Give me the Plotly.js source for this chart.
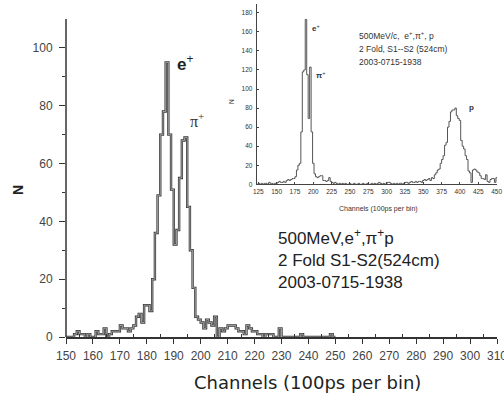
<!DOCTYPE html>
<html><head><meta charset="utf-8">
<script src="https://cdn.plot.ly/plotly-3.0.1.min.js"></script>
<style>html,body{margin:0;padding:0;background:#fff}#chart{width:504px;height:394px}</style>
</head><body><div id="chart"></div>
<script>
// ---- main histogram: 1-channel bins starting at channel 150 ----
const mainStart = 150;
const mainBinWidth = 1;
const mainCounts = [
  0,0,0,1,2,1,1,0,1,0,        // 150-159
  0,2,1,1,3,0,1,2,2,2,        // 160-169
  4,3,3,2,3,4,7,8,5,11,       // 170-179
  11,9,20,36,49,70,78,95,70,51, // 180-189
  32,37,55,68,69,45,30,17,7,6,  // 190-199
  5,3,6,5,4,7,0,3,2,3,        // 200-209
  4,4,4,3,2,2,1,4,3,2,        // 210-219
  2,1,1,0,1,1,1,0,0,3,        // 220-229
  0,0,0,0,0,0,0,1,0,0,        // 230-239
  0,0,0,0,0,0,0,0,1,0         // 240-249
];
const mainXTicks = [150,160,170,180,190,200,210,220,230,240,250,260,270,280,290,300,310];
const mainYTicks = [0,20,40,60,80,100];
const mainYMinor = [10,30,50,70,90];

// ---- inset histogram: 2-channel bins starting at channel 123 ----
const insetStart = 123;
const insetBinWidth = 2;
const insetCounts = [
  0,1,0,1,0,1,1,0,2,1,
  1,0,1,1,2,3,2,2,3,2,
  4,5,4,5,6,6,8,15,20,22,
  55,118,120,173,115,69,123,55,22,11,
  8,7,8,9,9,4,4,3,4,7,
  3,2,1,2,1,0,1,0,1,0,
  1,0,0,1,0,0,1,0,0,1,
  0,0,1,0,0,1,0,0,1,0,
  1,0,1,2,1,0,1,0,1,2,
  2,1,0,1,0,1,0,1,1,0,
  1,2,2,1,2,3,2,2,3,2,
  3,3,2,4,5,4,5,6,4,7,
  6,10,12,15,16,22,26,30,41,44,
  60,66,76,78,78,80,72,69,67,46,
  40,37,30,26,14,12,2,15,16,15,
  13,12,9,6,6,5,10,3,2,5,
  6,6,2,7,3
];
const insetXTicks = [125,150,175,200,225,250,275,300,325,350,375,400,425,450];
const insetYTicks = [0,20,40,60,80,100,120,140,160,180];

function stepOutline(start, width, counts) {
  const xs = [start], ys = [0];
  for (let i = 0; i < counts.length; i++) { xs.push(start + i*width); ys.push(counts[i]); }
  xs.push(start + counts.length*width); ys.push(0);
  return {xs, ys};
}
const m = stepOutline(mainStart, mainBinWidth, mainCounts);
const s = stepOutline(insetStart, insetBinWidth, insetCounts);

const sans = 'Liberation Sans, Arial, sans-serif';
const traces = [
  {x:m.xs, y:m.ys, type:'scatter', mode:'lines', line:{shape:'hv', color:'#3a3a3a', width:2.4}, xaxis:'x', yaxis:'y', hoverinfo:'skip'},
  {x:m.xs, y:m.ys, type:'scatter', mode:'lines', line:{shape:'hv', color:'#c8c8c8', width:0.7}, xaxis:'x', yaxis:'y', hoverinfo:'skip'},
  {x:s.xs, y:s.ys, type:'scatter', mode:'lines', line:{shape:'hv', color:'#555', width:1}, xaxis:'x2', yaxis:'y2', hoverinfo:'skip'}
];

const L = 66, R = 497, T = 4, B = 337;
const px = v => (v - L) / (R - L);
const py = v => (B - v) / (B - T);
function ann(x, y, text, font, extra) {
  return Object.assign({xref:'paper', yref:'paper', x:px(x), y:py(y), text:text, showarrow:false,
    xanchor:'center', yanchor:'middle', font:font}, extra || {});
}

const layout = {
  width:504, height:394,
  margin:{l:L, r:504-R, t:T, b:394-B, pad:0},
  paper_bgcolor:'#fff', plot_bgcolor:'rgba(0,0,0,0)',
  showlegend:false,
  xaxis:{domain:[0,1], range:[150,310], tickvals:mainXTicks, ticks:'outside', ticklen:5, tickwidth:1, tickcolor:'#333',
    showline:true, linecolor:'#333', linewidth:1.5, showgrid:false, zeroline:false, ticklabelstandoff:2, ticklabeloverflow:'allow',
    minor:{tickmode:'linear', tick0:155, dtick:10, ticks:'inside', ticklen:3, tickcolor:'#333', showgrid:false},
    tickfont:{family:sans, size:12, color:'#444'}},
  yaxis:{domain:[0,1], range:[0,115.2], tickvals:mainYTicks, ticks:'outside', ticklen:6, tickwidth:1, tickcolor:'#333',
    showline:false, showgrid:false, zeroline:false, ticklabelstandoff:4,
    minor:{tickmode:'array', tickvals:mainYMinor, ticks:'outside', ticklen:3, tickcolor:'#333', showgrid:false},
    tickfont:{family:sans, size:12, color:'#444'}},
  xaxis2:{domain:[px(256.7),1], anchor:'y2', range:[122.8,450.5], tickvals:insetXTicks, ticks:'inside', ticklen:2, tickcolor:'#444',
    showline:true, linecolor:'#444', linewidth:1, showgrid:false, zeroline:false, ticklabelstandoff:1, ticklabeloverflow:'allow',
    tickfont:{family:sans, size:6.5, color:'#333'}},
  yaxis2:{domain:[py(184.3),1], anchor:'x2', range:[0,189.2], tickvals:insetYTicks, ticks:'inside', ticklen:2, tickcolor:'#444',
    showline:true, linecolor:'#444', linewidth:1, showgrid:false, zeroline:false, ticklabelstandoff:2,
    tickfont:{family:sans, size:6.5, color:'#333'}},
  shapes:[
    {type:'line', xref:'paper', x0:0, x1:0, yref:'y', y0:0, y1:110, line:{color:'#333', width:1.5}}
  ],
  annotations:[
    ann(18, 190, '<b>N</b>', {family:sans, size:14, color:'#222'}, {textangle:-90}),
    ann(307, 382, 'Channels (100ps per bin)', {family:'DejaVu Sans, sans-serif', size:18, color:'#222'}),
    ann(276, 259, '500MeV,e<sup>+</sup>,π<sup>+</sup>p<br>2 Fold S1-S2(524cm)<br>2003-0715-1938',
        {family:sans, size:17, color:'#222'}, {xanchor:'left', align:'left'}),
    ann(185, 63, '<b>e</b><sup>+</sup>', {family:sans, size:17, color:'#222'}),
    ann(197, 120, 'π<sup>+</sup>', {family:'Liberation Serif, serif', size:16, color:'#333'}),
    ann(357, 35, '500MeV/c,  e<sup>+</sup>,π<sup>+</sup>, p', {family:sans, size:8.5, color:'#333'}, {xanchor:'left'}),
    ann(357, 48.5, '2 Fold, S1--S2 (524cm)', {family:sans, size:8.5, color:'#333'}, {xanchor:'left'}),
    ann(357, 62, '2003-0715-1938', {family:sans, size:8.5, color:'#333'}, {xanchor:'left'}),
    ann(316, 28, '<b>e</b><sup>+</sup>', {family:sans, size:8, color:'#333'}),
    ann(320, 75, '<b>π</b><sup>+</sup>', {family:sans, size:8, color:'#333'}),
    ann(471, 107, '<b>p</b>', {family:sans, size:8, color:'#333'}),
    ann(231, 102, 'N', {family:sans, size:6.5, color:'#333'}, {textangle:-90}),
    ann(378, 209, 'Channels (100ps per bin)', {family:sans, size:7, color:'#333'})
  ]
};
Plotly.newPlot('chart', traces, layout, {staticPlot:true, displayModeBar:false});
</script></body></html>
